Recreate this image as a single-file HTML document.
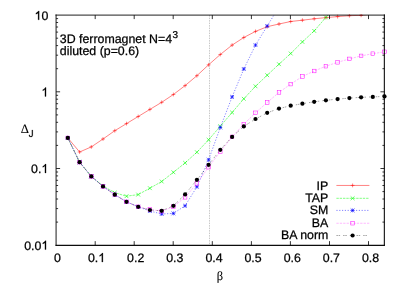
<!DOCTYPE html>
<html><head><meta charset="utf-8"><style>
html,body{margin:0;padding:0;background:#fff;}
svg{display:block;will-change:transform;}
text{font-family:"Liberation Sans",sans-serif;font-size:12.36px;fill:#000;text-rendering:geometricPrecision;stroke:#000;stroke-width:0.25px;}
</style></head><body>
<svg width="407" height="285" viewBox="0 0 407 285">
<rect width="407" height="285" fill="#fff"/>
<clipPath id="c2"><rect x="53.1" y="14.1" width="334.34999999999997" height="233.05"/></clipPath>
<clipPath id="c"><rect x="56.1" y="15.1" width="328.34999999999997" height="230.05"/></clipPath>
<line x1="209.5" y1="15.1" x2="209.5" y2="245.15" stroke="#000" stroke-width="0.6" stroke-dasharray="1.5,1.0" opacity="0.36"/>
<polyline points="67.8,137.9 79.6,152.0 91.3,146.9 103.0,139.0 114.8,130.7 126.5,123.6 138.2,116.5 149.9,109.4 161.7,102.3 173.4,94.5 185.1,85.6 196.9,75.7 208.6,64.8 220.3,54.5 232.1,45.1 243.8,37.5 255.5,31.4 267.2,26.7 279.0,24.0 290.7,21.5 302.4,20.2 314.2,18.8 325.9,17.6 337.6,16.6 349.4,15.7 361.1,15.3 372.8,14.0" fill="none" stroke="#ff0000" stroke-width="0.55" stroke-opacity="0.9" clip-path="url(#c)"/>

<g clip-path="url(#c2)"><path d="M65.9,137.9H69.7M67.8,136.0V139.8" stroke="#ff0000" stroke-width="0.5" fill="none"/><path d="M77.7,152.0H81.5M79.6,150.1V153.9" stroke="#ff0000" stroke-width="0.5" fill="none"/><path d="M89.4,146.9H93.2M91.3,145.0V148.8" stroke="#ff0000" stroke-width="0.5" fill="none"/><path d="M101.1,139.0H104.9M103.0,137.1V140.9" stroke="#ff0000" stroke-width="0.5" fill="none"/><path d="M112.8,130.7H116.7M114.8,128.8V132.6" stroke="#ff0000" stroke-width="0.5" fill="none"/><path d="M124.6,123.6H128.4M126.5,121.7V125.5" stroke="#ff0000" stroke-width="0.5" fill="none"/><path d="M136.3,116.5H140.1M138.2,114.6V118.4" stroke="#ff0000" stroke-width="0.5" fill="none"/><path d="M148.0,109.4H151.8M149.9,107.5V111.3" stroke="#ff0000" stroke-width="0.5" fill="none"/><path d="M159.8,102.3H163.6M161.7,100.4V104.2" stroke="#ff0000" stroke-width="0.5" fill="none"/><path d="M171.5,94.5H175.3M173.4,92.6V96.4" stroke="#ff0000" stroke-width="0.5" fill="none"/><path d="M183.2,85.6H187.0M185.1,83.7V87.5" stroke="#ff0000" stroke-width="0.5" fill="none"/><path d="M195.0,75.7H198.8M196.9,73.8V77.6" stroke="#ff0000" stroke-width="0.5" fill="none"/><path d="M206.7,64.8H210.5M208.6,62.9V66.7" stroke="#ff0000" stroke-width="0.5" fill="none"/><path d="M218.4,54.5H222.2M220.3,52.6V56.4" stroke="#ff0000" stroke-width="0.5" fill="none"/><path d="M230.2,45.1H234.0M232.1,43.2V47.0" stroke="#ff0000" stroke-width="0.5" fill="none"/><path d="M241.9,37.5H245.7M243.8,35.6V39.4" stroke="#ff0000" stroke-width="0.5" fill="none"/><path d="M253.6,31.4H257.4M255.5,29.5V33.3" stroke="#ff0000" stroke-width="0.5" fill="none"/><path d="M265.3,26.7H269.1M267.2,24.8V28.6" stroke="#ff0000" stroke-width="0.5" fill="none"/><path d="M277.1,24.0H280.9M279.0,22.1V25.9" stroke="#ff0000" stroke-width="0.5" fill="none"/><path d="M288.8,21.5H292.6M290.7,19.6V23.4" stroke="#ff0000" stroke-width="0.5" fill="none"/><path d="M300.5,20.2H304.3M302.4,18.3V22.1" stroke="#ff0000" stroke-width="0.5" fill="none"/><path d="M312.3,18.8H316.1M314.2,16.9V20.7" stroke="#ff0000" stroke-width="0.5" fill="none"/><path d="M324.0,17.6H327.8M325.9,15.7V19.5" stroke="#ff0000" stroke-width="0.5" fill="none"/><path d="M335.7,16.6H339.5M337.6,14.7V18.5" stroke="#ff0000" stroke-width="0.5" fill="none"/><path d="M347.5,15.7H351.2M349.4,13.8V17.6" stroke="#ff0000" stroke-width="0.5" fill="none"/><path d="M359.2,15.3H363.0M361.1,13.4V17.2" stroke="#ff0000" stroke-width="0.5" fill="none"/></g>
<polyline points="67.8,137.9 79.6,162.2 91.3,176.4 103.0,186.0 114.8,192.7 126.5,196.2 138.2,194.6 149.9,188.2 161.7,181.5 173.4,172.3 185.1,162.9 196.9,152.2 208.6,139.8 220.3,126.2 232.1,112.5 243.8,98.8 255.5,86.3 267.2,75.2 279.0,64.2 290.7,53.5 302.4,41.9 314.2,30.9 325.9,17.4 337.6,3.0" fill="none" stroke="#00ff00" stroke-width="0.55" stroke-opacity="0.9" stroke-dasharray="2.4,0.9" clip-path="url(#c)"/>

<g clip-path="url(#c2)"><path d="M65.9,136.0L69.7,139.8M65.9,139.8L69.7,136.0" stroke="#00ff00" stroke-width="0.6" fill="none"/><path d="M77.7,160.3L81.5,164.1M77.7,164.1L81.5,160.3" stroke="#00ff00" stroke-width="0.6" fill="none"/><path d="M89.4,174.5L93.2,178.3M89.4,178.3L93.2,174.5" stroke="#00ff00" stroke-width="0.6" fill="none"/><path d="M101.1,184.1L104.9,187.9M101.1,187.9L104.9,184.1" stroke="#00ff00" stroke-width="0.6" fill="none"/><path d="M112.8,190.8L116.7,194.6M112.8,194.6L116.7,190.8" stroke="#00ff00" stroke-width="0.6" fill="none"/><path d="M124.6,194.3L128.4,198.1M124.6,198.1L128.4,194.3" stroke="#00ff00" stroke-width="0.6" fill="none"/><path d="M136.3,192.7L140.1,196.5M136.3,196.5L140.1,192.7" stroke="#00ff00" stroke-width="0.6" fill="none"/><path d="M148.0,186.3L151.8,190.1M148.0,190.1L151.8,186.3" stroke="#00ff00" stroke-width="0.6" fill="none"/><path d="M159.8,179.6L163.6,183.4M159.8,183.4L163.6,179.6" stroke="#00ff00" stroke-width="0.6" fill="none"/><path d="M171.5,170.4L175.3,174.2M171.5,174.2L175.3,170.4" stroke="#00ff00" stroke-width="0.6" fill="none"/><path d="M183.2,161.0L187.0,164.8M183.2,164.8L187.0,161.0" stroke="#00ff00" stroke-width="0.6" fill="none"/><path d="M195.0,150.3L198.8,154.1M195.0,154.1L198.8,150.3" stroke="#00ff00" stroke-width="0.6" fill="none"/><path d="M206.7,137.9L210.5,141.7M206.7,141.7L210.5,137.9" stroke="#00ff00" stroke-width="0.6" fill="none"/><path d="M218.4,124.3L222.2,128.1M218.4,128.1L222.2,124.3" stroke="#00ff00" stroke-width="0.6" fill="none"/><path d="M230.2,110.6L234.0,114.4M230.2,114.4L234.0,110.6" stroke="#00ff00" stroke-width="0.6" fill="none"/><path d="M241.9,96.9L245.7,100.7M241.9,100.7L245.7,96.9" stroke="#00ff00" stroke-width="0.6" fill="none"/><path d="M253.6,84.4L257.4,88.2M253.6,88.2L257.4,84.4" stroke="#00ff00" stroke-width="0.6" fill="none"/><path d="M265.3,73.3L269.1,77.1M265.3,77.1L269.1,73.3" stroke="#00ff00" stroke-width="0.6" fill="none"/><path d="M277.1,62.3L280.9,66.1M277.1,66.1L280.9,62.3" stroke="#00ff00" stroke-width="0.6" fill="none"/><path d="M288.8,51.6L292.6,55.4M288.8,55.4L292.6,51.6" stroke="#00ff00" stroke-width="0.6" fill="none"/><path d="M300.5,40.0L304.3,43.8M300.5,43.8L304.3,40.0" stroke="#00ff00" stroke-width="0.6" fill="none"/><path d="M312.3,29.0L316.1,32.8M312.3,32.8L316.1,29.0" stroke="#00ff00" stroke-width="0.6" fill="none"/><path d="M324.0,15.5L327.8,19.3M324.0,19.3L327.8,15.5" stroke="#00ff00" stroke-width="0.6" fill="none"/></g>
<polyline points="67.8,137.9 79.6,162.2 91.3,176.4 103.0,186.4 114.8,194.7 126.5,201.8 138.2,206.8 149.9,211.0 161.7,214.0 173.4,213.4 185.1,205.8 196.9,186.8 208.6,159.8 220.3,127.5 232.1,96.9 243.8,69.0 255.5,45.1 267.2,26.0 279.0,7.0" fill="none" stroke="#0000ff" stroke-width="0.55" stroke-opacity="0.9" stroke-dasharray="1.2,1.6" clip-path="url(#c)"/>

<g clip-path="url(#c2)"><path d="M65.9,137.9H69.7M67.8,136.0V139.8" stroke="#0000ff" stroke-width="0.6" fill="none"/><path d="M65.9,136.0L69.7,139.8M65.9,139.8L69.7,136.0" stroke="#0000ff" stroke-width="0.6" fill="none"/><path d="M77.7,162.2H81.5M79.6,160.3V164.1" stroke="#0000ff" stroke-width="0.6" fill="none"/><path d="M77.7,160.3L81.5,164.1M77.7,164.1L81.5,160.3" stroke="#0000ff" stroke-width="0.6" fill="none"/><path d="M89.4,176.4H93.2M91.3,174.5V178.3" stroke="#0000ff" stroke-width="0.6" fill="none"/><path d="M89.4,174.5L93.2,178.3M89.4,178.3L93.2,174.5" stroke="#0000ff" stroke-width="0.6" fill="none"/><path d="M101.1,186.4H104.9M103.0,184.5V188.3" stroke="#0000ff" stroke-width="0.6" fill="none"/><path d="M101.1,184.5L104.9,188.3M101.1,188.3L104.9,184.5" stroke="#0000ff" stroke-width="0.6" fill="none"/><path d="M112.8,194.7H116.7M114.8,192.8V196.6" stroke="#0000ff" stroke-width="0.6" fill="none"/><path d="M112.8,192.8L116.7,196.6M112.8,196.6L116.7,192.8" stroke="#0000ff" stroke-width="0.6" fill="none"/><path d="M124.6,201.8H128.4M126.5,199.9V203.7" stroke="#0000ff" stroke-width="0.6" fill="none"/><path d="M124.6,199.9L128.4,203.7M124.6,203.7L128.4,199.9" stroke="#0000ff" stroke-width="0.6" fill="none"/><path d="M136.3,206.8H140.1M138.2,204.9V208.7" stroke="#0000ff" stroke-width="0.6" fill="none"/><path d="M136.3,204.9L140.1,208.7M136.3,208.7L140.1,204.9" stroke="#0000ff" stroke-width="0.6" fill="none"/><path d="M148.0,211.0H151.8M149.9,209.1V212.9" stroke="#0000ff" stroke-width="0.6" fill="none"/><path d="M148.0,209.1L151.8,212.9M148.0,212.9L151.8,209.1" stroke="#0000ff" stroke-width="0.6" fill="none"/><path d="M159.8,214.0H163.6M161.7,212.1V215.9" stroke="#0000ff" stroke-width="0.6" fill="none"/><path d="M159.8,212.1L163.6,215.9M159.8,215.9L163.6,212.1" stroke="#0000ff" stroke-width="0.6" fill="none"/><path d="M171.5,213.4H175.3M173.4,211.5V215.3" stroke="#0000ff" stroke-width="0.6" fill="none"/><path d="M171.5,211.5L175.3,215.3M171.5,215.3L175.3,211.5" stroke="#0000ff" stroke-width="0.6" fill="none"/><path d="M183.2,205.8H187.0M185.1,203.9V207.7" stroke="#0000ff" stroke-width="0.6" fill="none"/><path d="M183.2,203.9L187.0,207.7M183.2,207.7L187.0,203.9" stroke="#0000ff" stroke-width="0.6" fill="none"/><path d="M195.0,186.8H198.8M196.9,184.9V188.7" stroke="#0000ff" stroke-width="0.6" fill="none"/><path d="M195.0,184.9L198.8,188.7M195.0,188.7L198.8,184.9" stroke="#0000ff" stroke-width="0.6" fill="none"/><path d="M206.7,159.8H210.5M208.6,157.9V161.7" stroke="#0000ff" stroke-width="0.6" fill="none"/><path d="M206.7,157.9L210.5,161.7M206.7,161.7L210.5,157.9" stroke="#0000ff" stroke-width="0.6" fill="none"/><path d="M218.4,127.5H222.2M220.3,125.6V129.4" stroke="#0000ff" stroke-width="0.6" fill="none"/><path d="M218.4,125.6L222.2,129.4M218.4,129.4L222.2,125.6" stroke="#0000ff" stroke-width="0.6" fill="none"/><path d="M230.2,96.9H234.0M232.1,95.0V98.8" stroke="#0000ff" stroke-width="0.6" fill="none"/><path d="M230.2,95.0L234.0,98.8M230.2,98.8L234.0,95.0" stroke="#0000ff" stroke-width="0.6" fill="none"/><path d="M241.9,69.0H245.7M243.8,67.1V70.9" stroke="#0000ff" stroke-width="0.6" fill="none"/><path d="M241.9,67.1L245.7,70.9M241.9,70.9L245.7,67.1" stroke="#0000ff" stroke-width="0.6" fill="none"/><path d="M253.6,45.1H257.4M255.5,43.2V47.0" stroke="#0000ff" stroke-width="0.6" fill="none"/><path d="M253.6,43.2L257.4,47.0M253.6,47.0L257.4,43.2" stroke="#0000ff" stroke-width="0.6" fill="none"/><path d="M265.3,26.0H269.1M267.2,24.1V27.9" stroke="#0000ff" stroke-width="0.6" fill="none"/><path d="M265.3,24.1L269.1,27.9M265.3,27.9L269.1,24.1" stroke="#0000ff" stroke-width="0.6" fill="none"/></g>
<polyline points="67.8,137.9 79.6,162.2 91.3,176.4 103.0,186.4 114.8,194.7 126.5,201.8 138.2,206.8 149.9,209.5 161.7,211.2 173.4,206.6 185.1,197.3 196.9,183.5 208.6,167.2 220.3,151.6 232.1,136.9 243.8,124.2 255.5,112.8 267.2,102.5 279.0,92.4 290.7,84.1 302.4,76.5 314.2,71.0 325.9,66.2 337.6,62.3 349.4,58.9 361.1,55.9 372.8,53.7 384.5,51.8" fill="none" stroke="#ff00ff" stroke-width="0.55" stroke-opacity="0.5" stroke-dasharray="2.3,1.1" clip-path="url(#c)"/>

<g clip-path="url(#c2)"><rect x="66.0" y="136.1" width="3.6" height="3.6" stroke="#ff00ff" stroke-width="0.5" fill="none"/><rect x="77.8" y="160.4" width="3.6" height="3.6" stroke="#ff00ff" stroke-width="0.5" fill="none"/><rect x="89.5" y="174.6" width="3.6" height="3.6" stroke="#ff00ff" stroke-width="0.5" fill="none"/><rect x="101.2" y="184.6" width="3.6" height="3.6" stroke="#ff00ff" stroke-width="0.5" fill="none"/><rect x="113.0" y="192.9" width="3.6" height="3.6" stroke="#ff00ff" stroke-width="0.5" fill="none"/><rect x="124.7" y="200.0" width="3.6" height="3.6" stroke="#ff00ff" stroke-width="0.5" fill="none"/><rect x="136.4" y="205.0" width="3.6" height="3.6" stroke="#ff00ff" stroke-width="0.5" fill="none"/><rect x="148.1" y="207.7" width="3.6" height="3.6" stroke="#ff00ff" stroke-width="0.5" fill="none"/><rect x="159.9" y="209.4" width="3.6" height="3.6" stroke="#ff00ff" stroke-width="0.5" fill="none"/><rect x="171.6" y="204.8" width="3.6" height="3.6" stroke="#ff00ff" stroke-width="0.5" fill="none"/><rect x="183.3" y="195.5" width="3.6" height="3.6" stroke="#ff00ff" stroke-width="0.5" fill="none"/><rect x="195.1" y="181.7" width="3.6" height="3.6" stroke="#ff00ff" stroke-width="0.5" fill="none"/><rect x="206.8" y="165.4" width="3.6" height="3.6" stroke="#ff00ff" stroke-width="0.5" fill="none"/><rect x="218.5" y="149.8" width="3.6" height="3.6" stroke="#ff00ff" stroke-width="0.5" fill="none"/><rect x="230.2" y="135.1" width="3.6" height="3.6" stroke="#ff00ff" stroke-width="0.5" fill="none"/><rect x="242.0" y="122.4" width="3.6" height="3.6" stroke="#ff00ff" stroke-width="0.5" fill="none"/><rect x="253.7" y="111.0" width="3.6" height="3.6" stroke="#ff00ff" stroke-width="0.5" fill="none"/><rect x="265.4" y="100.7" width="3.6" height="3.6" stroke="#ff00ff" stroke-width="0.5" fill="none"/><rect x="277.2" y="90.6" width="3.6" height="3.6" stroke="#ff00ff" stroke-width="0.5" fill="none"/><rect x="288.9" y="82.3" width="3.6" height="3.6" stroke="#ff00ff" stroke-width="0.5" fill="none"/><rect x="300.6" y="74.7" width="3.6" height="3.6" stroke="#ff00ff" stroke-width="0.5" fill="none"/><rect x="312.4" y="69.2" width="3.6" height="3.6" stroke="#ff00ff" stroke-width="0.5" fill="none"/><rect x="324.1" y="64.4" width="3.6" height="3.6" stroke="#ff00ff" stroke-width="0.5" fill="none"/><rect x="335.8" y="60.5" width="3.6" height="3.6" stroke="#ff00ff" stroke-width="0.5" fill="none"/><rect x="347.6" y="57.1" width="3.6" height="3.6" stroke="#ff00ff" stroke-width="0.5" fill="none"/><rect x="359.3" y="54.1" width="3.6" height="3.6" stroke="#ff00ff" stroke-width="0.5" fill="none"/><rect x="371.0" y="51.9" width="3.6" height="3.6" stroke="#ff00ff" stroke-width="0.5" fill="none"/><rect x="382.7" y="50.0" width="3.6" height="3.6" stroke="#ff00ff" stroke-width="0.5" fill="none"/></g>
<polyline points="67.8,137.9 79.6,162.2 91.3,176.4 103.0,186.4 114.8,194.7 126.5,201.8 138.2,206.8 149.9,210.0 161.7,210.8 173.4,205.8 185.1,194.4 196.9,179.8 208.6,164.8 220.3,149.8 232.1,136.9 243.8,126.4 255.5,119.0 267.2,112.8 279.0,108.6 290.7,105.7 302.4,103.7 314.2,101.8 325.9,100.3 337.6,99.1 349.4,98.1 361.1,97.3 372.8,96.9 384.5,96.4" fill="none" stroke="#000000" stroke-width="0.55" stroke-opacity="0.65" stroke-dasharray="1.5,0.7,1.5,3.0" clip-path="url(#c)"/>

<g clip-path="url(#c2)"><circle cx="67.8" cy="137.9" r="2.1" fill="#000000"/><circle cx="79.6" cy="162.2" r="2.1" fill="#000000"/><circle cx="91.3" cy="176.4" r="2.1" fill="#000000"/><circle cx="103.0" cy="186.4" r="2.1" fill="#000000"/><circle cx="114.8" cy="194.7" r="2.1" fill="#000000"/><circle cx="126.5" cy="201.8" r="2.1" fill="#000000"/><circle cx="138.2" cy="206.8" r="2.1" fill="#000000"/><circle cx="149.9" cy="210.0" r="2.1" fill="#000000"/><circle cx="161.7" cy="210.8" r="2.1" fill="#000000"/><circle cx="173.4" cy="205.8" r="2.1" fill="#000000"/><circle cx="185.1" cy="194.4" r="2.1" fill="#000000"/><circle cx="196.9" cy="179.8" r="2.1" fill="#000000"/><circle cx="208.6" cy="164.8" r="2.1" fill="#000000"/><circle cx="220.3" cy="149.8" r="2.1" fill="#000000"/><circle cx="232.1" cy="136.9" r="2.1" fill="#000000"/><circle cx="243.8" cy="126.4" r="2.1" fill="#000000"/><circle cx="255.5" cy="119.0" r="2.1" fill="#000000"/><circle cx="267.2" cy="112.8" r="2.1" fill="#000000"/><circle cx="279.0" cy="108.6" r="2.1" fill="#000000"/><circle cx="290.7" cy="105.7" r="2.1" fill="#000000"/><circle cx="302.4" cy="103.7" r="2.1" fill="#000000"/><circle cx="314.2" cy="101.8" r="2.1" fill="#000000"/><circle cx="325.9" cy="100.3" r="2.1" fill="#000000"/><circle cx="337.6" cy="99.1" r="2.1" fill="#000000"/><circle cx="349.4" cy="98.1" r="2.1" fill="#000000"/><circle cx="361.1" cy="97.3" r="2.1" fill="#000000"/><circle cx="372.8" cy="96.9" r="2.1" fill="#000000"/><circle cx="384.5" cy="96.4" r="2.1" fill="#000000"/></g>
<path d="M56.1,14.5V245.75" stroke="#000" stroke-width="1.25" stroke-opacity="0.72" fill="none"/><path d="M55.5,15.049999999999999H384.95" stroke="#000" stroke-width="1.25" stroke-opacity="0.7" fill="none"/><path d="M384.34999999999997,14.5V245.85" stroke="#000" stroke-width="1.1" stroke-opacity="0.95" fill="none"/><path d="M55.5,245.35H384.9" stroke="#000" stroke-width="1.05" stroke-opacity="0.95" fill="none"/>
<path d="M95.2,245.15v-4M95.2,15.1v4M134.2,245.15v-4M134.2,15.1v4M173.2,245.15v-4M173.2,15.1v4M212.3,245.15v-4M212.3,15.1v4M251.4,245.15v-4M251.4,15.1v4M290.4,245.15v-4M290.4,15.1v4M329.5,245.15v-4M329.5,15.1v4M368.5,245.15v-4M368.5,15.1v4M56.1,222.1h2M384.45,222.1h-2M56.1,208.6h2M384.45,208.6h-2M56.1,199.0h2M384.45,199.0h-2M56.1,191.6h2M384.45,191.6h-2M56.1,185.5h2M384.45,185.5h-2M56.1,180.3h2M384.45,180.3h-2M56.1,175.9h2M384.45,175.9h-2M56.1,172.0h2M384.45,172.0h-2M56.1,168.5h4M384.45,168.5h-4M56.1,145.4h2M384.45,145.4h-2M56.1,131.9h2M384.45,131.9h-2M56.1,122.3h2M384.45,122.3h-2M56.1,114.9h2M384.45,114.9h-2M56.1,108.8h2M384.45,108.8h-2M56.1,103.7h2M384.45,103.7h-2M56.1,99.2h2M384.45,99.2h-2M56.1,95.3h2M384.45,95.3h-2M56.1,91.8h4M384.45,91.8h-4M56.1,68.7h2M384.45,68.7h-2M56.1,55.2h2M384.45,55.2h-2M56.1,45.6h2M384.45,45.6h-2M56.1,38.2h2M384.45,38.2h-2M56.1,32.1h2M384.45,32.1h-2M56.1,27.0h2M384.45,27.0h-2M56.1,22.5h2M384.45,22.5h-2M56.1,18.6h2M384.45,18.6h-2" stroke="#000" stroke-width="0.8" fill="none"/>
<text x="54.01" y="262.0">0</text>
<text x="87.99" y="262.0">0.</text><path d="M763 0H583V1147Q518 1085 412.5 1023Q307 961 223 930V1104Q374 1175 487 1276Q600 1377 647 1472H763Z" transform="translate(98.30,262.00) scale(0.006035,-0.006035)" fill="#000" stroke="#000" stroke-width="41.4"/>
<text x="127.12" y="262.0">0.2</text>
<text x="166.25" y="262.0">0.3</text>
<text x="205.38" y="262.0">0.4</text>
<text x="244.51" y="262.0">0.5</text>
<text x="283.64" y="262.0">0.6</text>
<text x="322.77" y="262.0">0.7</text>
<text x="361.90" y="262.0">0.8</text>
<text x="24.25" y="249.6">0.0</text><path d="M763 0H583V1147Q518 1085 412.5 1023Q307 961 223 930V1104Q374 1175 487 1276Q600 1377 647 1472H763Z" transform="translate(41.43,249.55) scale(0.006035,-0.006035)" fill="#000" stroke="#000" stroke-width="41.4"/>
<text x="31.12" y="173.0">0.</text><path d="M763 0H583V1147Q518 1085 412.5 1023Q307 961 223 930V1104Q374 1175 487 1276Q600 1377 647 1472H763Z" transform="translate(41.43,172.97) scale(0.006035,-0.006035)" fill="#000" stroke="#000" stroke-width="41.4"/>
<path d="M763 0H583V1147Q518 1085 412.5 1023Q307 961 223 930V1104Q374 1175 487 1276Q600 1377 647 1472H763Z" transform="translate(41.43,96.38) scale(0.006035,-0.006035)" fill="#000" stroke="#000" stroke-width="41.4"/>
<path d="M763 0H583V1147Q518 1085 412.5 1023Q307 961 223 930V1104Q374 1175 487 1276Q600 1377 647 1472H763Z" transform="translate(34.56,19.80) scale(0.006035,-0.006035)" fill="#000" stroke="#000" stroke-width="41.4"/><text x="41.43" y="19.8">0</text>
<text x="59.8" y="43.2">3D ferromagnet N=4<tspan dy="-5.2" dx="0.3" style="font-size:9.9px">3</tspan></text>
<text x="59.8" y="54.5">diluted (p=0.6)</text>
<text x="20.8" y="133.3" style="font-family:'Liberation Serif',serif;font-size:12.8px;stroke-width:0.1px">Δ</text>
<path d="M59 416L234 440Q241 272 297 210Q353 148 452 148Q525 148 578 181.5Q631 215 651 272.5Q671 330 671 456V1466H865V467Q865 283 820.5 182Q776 81 679.5 28Q583 -25 453 -25Q260 -25 157.5 86Q55 197 59 416Z" transform="translate(28.60,137.00) scale(0.004834,-0.004834)" fill="#000" stroke="#000" stroke-width="31.0"/>
<text x="220" y="280.4" text-anchor="middle" style="font-family:'Liberation Serif',serif;font-size:12.4px;stroke-width:0.1px">β</text>
<text x="328.3" y="189.7" text-anchor="end">IP</text>
<line x1="336.4" y1="185.45" x2="369.4" y2="185.45" stroke="#ff0000" stroke-width="0.55" stroke-opacity="0.9"/>
<path d="M350.7,185.4H354.5M352.6,183.5V187.3" stroke="#ff0000" stroke-width="0.5" fill="none"/>
<text x="328.3" y="201.95" text-anchor="end">TAP</text>
<line x1="336.4" y1="198.3" x2="369.4" y2="198.3" stroke="#00ff00" stroke-width="0.55" stroke-opacity="0.9" stroke-dasharray="2.4,0.9"/>
<path d="M350.7,196.4L354.5,200.2M350.7,200.2L354.5,196.4" stroke="#00ff00" stroke-width="0.6" fill="none"/>
<text x="328.3" y="214.3" text-anchor="end">SM</text>
<line x1="336.4" y1="210.4" x2="369.4" y2="210.4" stroke="#0000ff" stroke-width="0.55" stroke-opacity="0.9" stroke-dasharray="1.2,1.6"/>
<path d="M350.7,210.4H354.5M352.6,208.5V212.3" stroke="#0000ff" stroke-width="0.6" fill="none"/><path d="M350.7,208.5L354.5,212.3M350.7,212.3L354.5,208.5" stroke="#0000ff" stroke-width="0.6" fill="none"/>
<text x="328.3" y="226.85" text-anchor="end">BA</text>
<line x1="336.4" y1="223.25" x2="369.4" y2="223.25" stroke="#ff00ff" stroke-width="0.55" stroke-opacity="0.5" stroke-dasharray="2.3,1.1"/>
<rect x="350.8" y="221.4" width="3.6" height="3.6" stroke="#ff00ff" stroke-width="0.5" fill="none"/>
<text x="328.3" y="239.4" text-anchor="end">BA norm</text>
<line x1="336.4" y1="235.5" x2="369.4" y2="235.5" stroke="#000000" stroke-width="0.55" stroke-opacity="0.65" stroke-dasharray="1.5,0.7,1.5,3.0"/>
<circle cx="352.6" cy="235.5" r="2.1" fill="#000000"/>
</svg>
</body></html>
